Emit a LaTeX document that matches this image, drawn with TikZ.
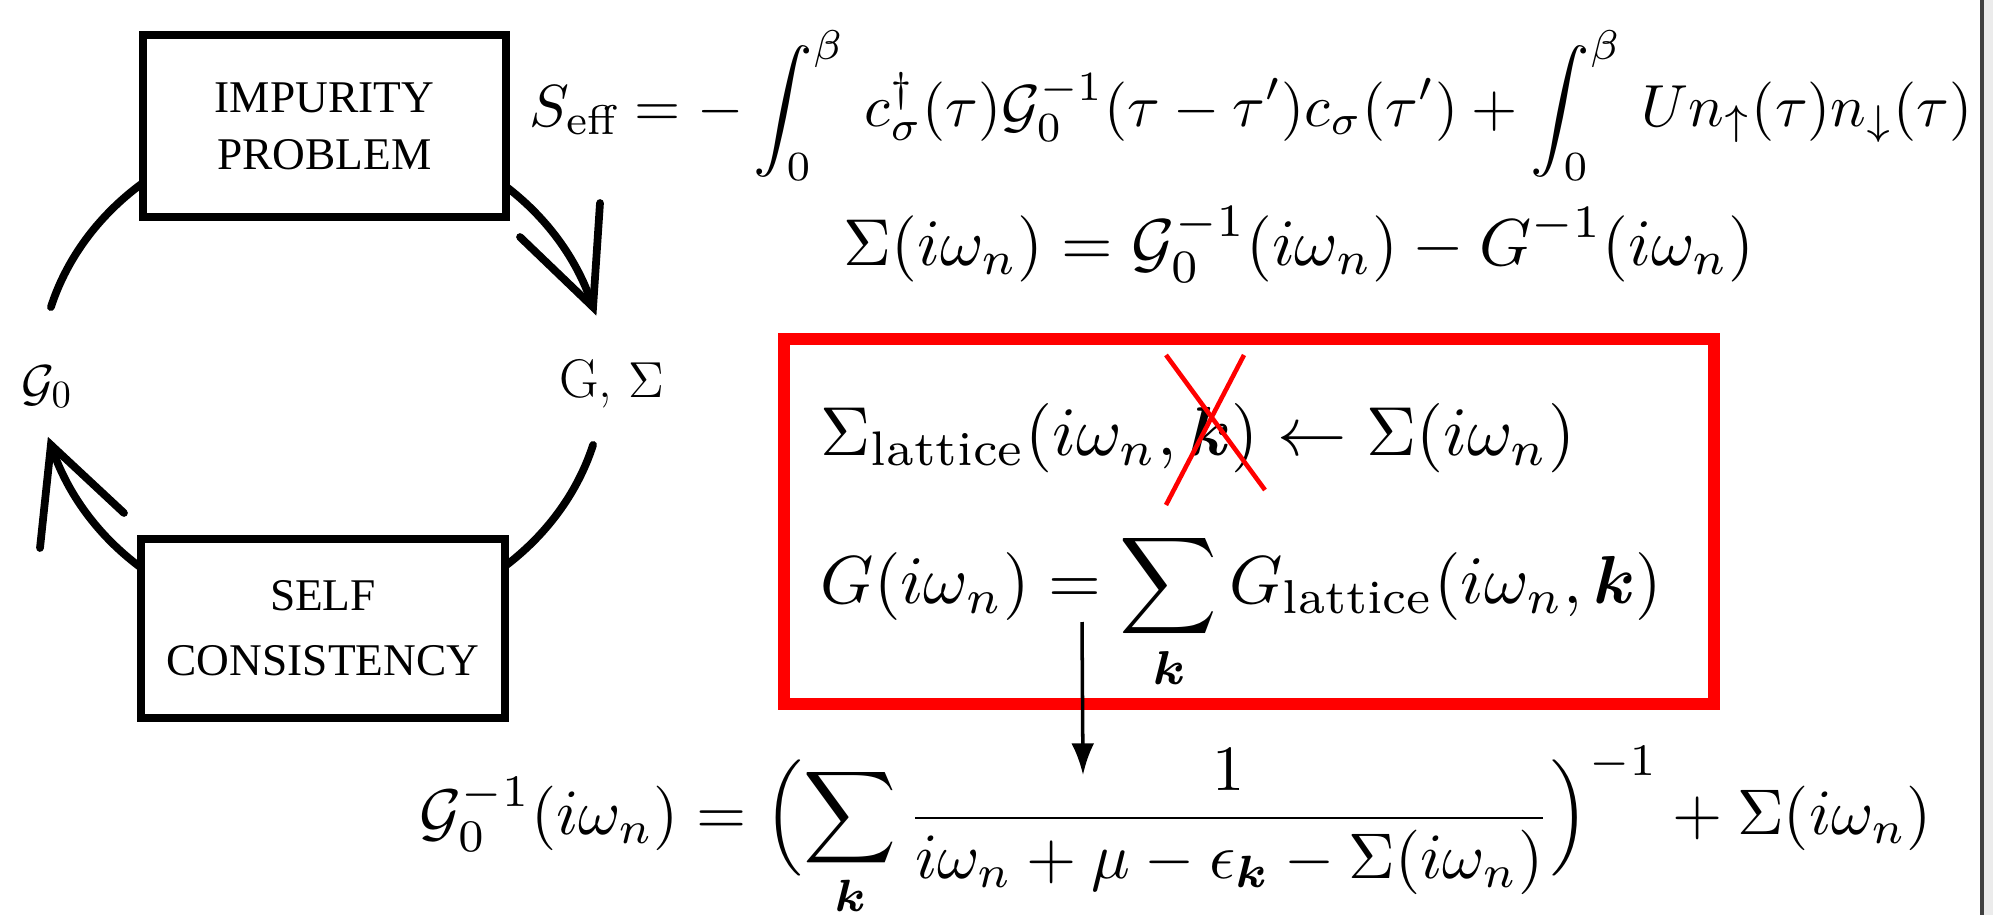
\documentclass[tikz,border=0pt]{standalone}
\usepackage{fontspec}
\newfontfamily\timesf{Liberation Serif}
\usepackage{amsmath}
\usetikzlibrary{arrows.meta}
\begin{document}
\begin{tikzpicture}[x=0.01cm,y=-0.01cm,
  loopbox/.style={draw=black, line width=2.3pt, fill=white, minimum width=3.63cm, minimum height=1.82cm, inner sep=0pt, align=center, font=\timesf\fontsize{12.9}{16.2}\selectfont},
  looparc/.style={line width=2.2pt, line join=miter, line cap=round},
  eqn/.style={anchor=base west, inner sep=0pt},
  redframe/.style={draw=red, line width=3.4pt},
  cross/.style={draw=red, line width=1.3pt},
  lbl/.style={anchor=base, font=\fontsize{15.5}{18}\selectfont, inner sep=0pt},
  flow/.style={-{Latex[length=9pt,width=6.5pt]}, line width=1pt}]
\useasboundingbox (0,0) rectangle (1993,915);
\fill[white] (0,0) rectangle (1993,915);
% right edge of the screenshot
\fill[black!75] (1980,0) rectangle (1984,915);
\fill[black!8] (1984,0) rectangle (1993,915);

% loop arcs (ellipse centre (322,376), radii 282 x 250)
\coordinate (tipR) at ({322+282*cos(-16)},{376+250*sin(-16)});
\coordinate (tipL) at ({322+282*cos(164)},{376+250*sin(164)});
\draw[looparc] plot[domain=235:196, samples=40, variable=\t] ({322+282*cos(\t)},{376+250*sin(\t)});
\draw[looparc] plot[domain=-50:-16, samples=40, variable=\t] ({322+282*cos(\t)},{376+250*sin(\t)});
\draw[looparc] plot[domain=16:52, samples=40, variable=\t] ({322+282*cos(\t)},{376+250*sin(\t)});
\draw[looparc] plot[domain=128:164, samples=40, variable=\t] ({322+282*cos(\t)},{376+250*sin(\t)});
\coordinate (armR1) at (600,203);
\coordinate (armR2) at (520,237);
\coordinate (armL1) at (40,548);
\coordinate (armL2) at (124,513);
\draw[looparc] (armR1) -- (tipR) -- (armR2);
\draw[looparc] (armL1) -- (tipL) -- (armL2);

% boxes
\node[loopbox] (imp) at (324.5,126) {IMPURITY\\PROBLEM};
\node[loopbox, minimum height=1.79cm, font=\timesf\fontsize{12.9}{18.4}\selectfont] (self) at (323,628.5) {SELF\\CONSISTENCY};

% labels
\node[lbl] (g0) at (47,400) {$\mathcal{G}_0$};
\node[lbl] (gs) at (612,397) {G, $\Sigma$};

% equations
\node[eqn] (seff) at (529,126) {\resizebox{14.42cm}{!}{$\displaystyle S_{\text{eff}} = -\int_0^\beta \, c^\dagger_\sigma(\tau)\mathcal{G}_0^{-1}(\tau-\tau')c_\sigma(\tau') + \int_0^\beta \, U n_\uparrow(\tau) n_\downarrow(\tau)$}};
\node[eqn] (sig) at (843,265) {\resizebox{9.10cm}{!}{$\displaystyle \Sigma(i\omega_n) = \mathcal{G}_0^{-1}(i\omega_n) - G^{-1}(i\omega_n)$}};
\node[redframe, minimum width=9.30cm, minimum height=3.65cm, inner sep=0pt] (rbox) at (1249,521.5) {};
\node[eqn] (slat) at (820,455) {\resizebox{7.54cm}{!}{$\displaystyle \Sigma_{\text{lattice}}(i\omega_n, \boldsymbol{k}) \leftarrow \Sigma(i\omega_n)$}};
\node[eqn] (gsum) at (820,603) {\resizebox{8.41cm}{!}{$\displaystyle G(i\omega_n) = \sum_{\boldsymbol{k}} G_{\text{lattice}}(i\omega_n, \boldsymbol{k})$}};
\node[eqn] (g0inv) at (419,834) {\resizebox{15.11cm}{!}{$\displaystyle \mathcal{G}_0^{-1}(i\omega_n) = \Bigl(\sum_{\boldsymbol{k}} \frac{1}{i\omega_n + \mu - \epsilon_{\boldsymbol{k}} - \Sigma(i\omega_n)}\Bigr)^{-1} + \Sigma(i\omega_n)$}};

% red cross over k
\coordinate (x1a) at (1166,355);
\coordinate (x1b) at (1265,490);
\coordinate (x2a) at (1244,355);
\coordinate (x2b) at (1166,505);
\draw[cross] (x1a) -- (x1b);
\draw[cross] (x2a) -- (x2b);

% vertical arrow
\coordinate (aS) at (1082,622);
\coordinate (aE) at (1083,775);
\draw[flow] (aS) -- (aE);
\end{tikzpicture}
\end{document}
